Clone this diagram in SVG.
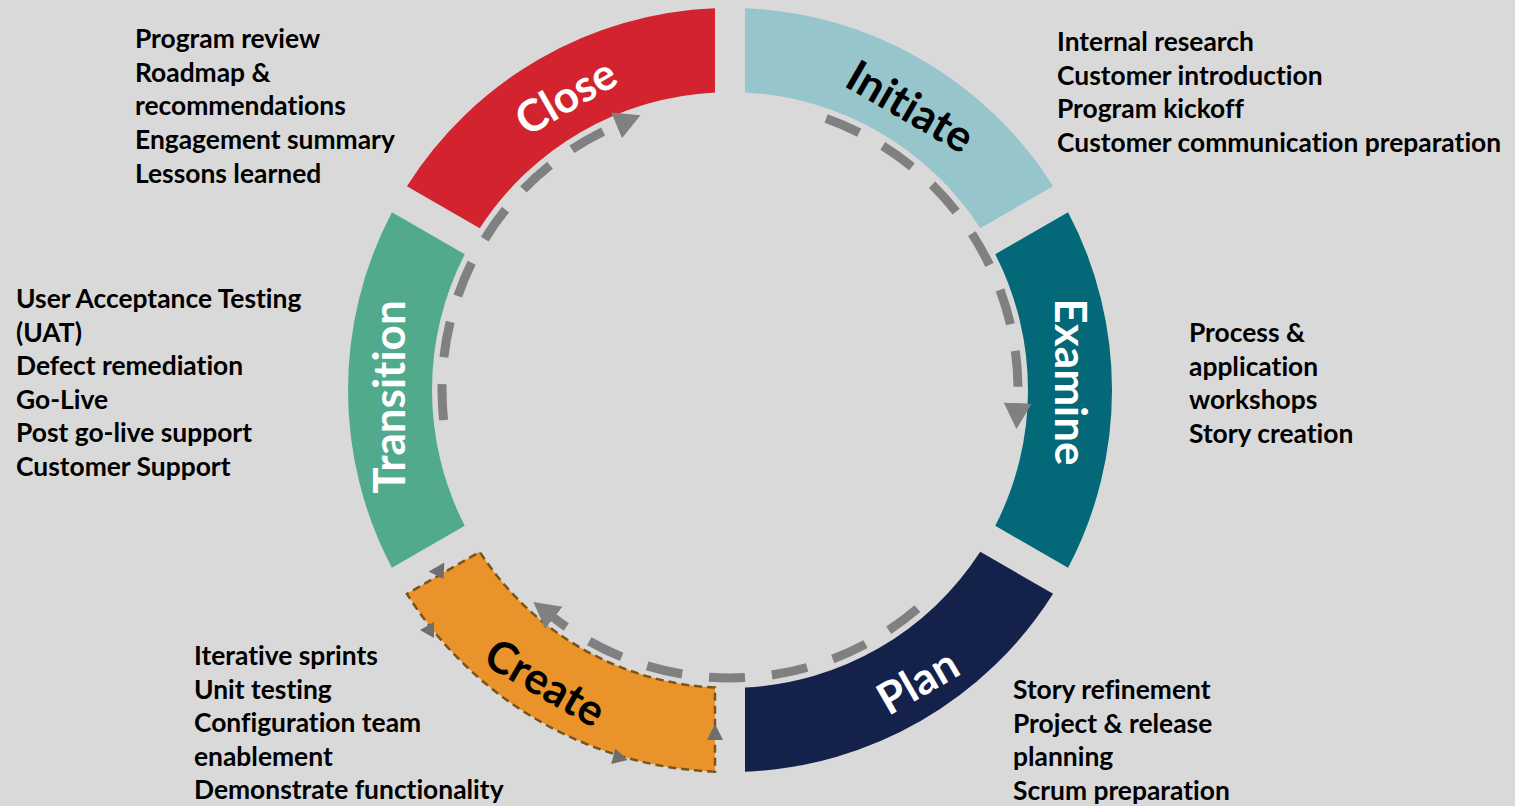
<svg xmlns="http://www.w3.org/2000/svg" width="1515" height="806" viewBox="0 0 1515 806">
<style>
text{font-variant-ligatures:none;font-feature-settings:"liga" 0,"clig" 0}
.list{font-family:Lato,"Open Sans",sans-serif;font-weight:700;font-size:26.4px;fill:#000}
.title{font-family:Lato,"Open Sans",sans-serif;font-weight:700;font-size:44px;text-anchor:middle}
.flow{fill:none;stroke:#808080;stroke-width:9;stroke-dasharray:36 27}
.tri{fill:#6E6E6E}
</style>
<defs>
<marker id="ah" markerUnits="userSpaceOnUse" markerWidth="30" markerHeight="30" refX="1" refY="14" orient="auto">
<path d="M0,0 L26,14 L0,28 Z" fill="#808080"/>
</marker>
</defs>
<rect width="1515" height="806" fill="#D9D9D9"/>

<g id="initiate">
<path d="M745,8.3 A382,382 0 0 1 1053.07,186.16 L980.25,228.2 A298,298 0 0 0 745,92.38 Z" fill="#96C6CC"/>
<text class="title" fill="#000" transform="translate(910,107) rotate(30)" y="15">Initiate</text>
</g>
<g id="examine">
<path d="M1068.07,212.14 A382,382 0 0 1 1068.07,567.86 L995.25,525.82 A298,298 0 0 0 995.25,254.18 Z" fill="#036877"/>
<text class="title" fill="#fff" transform="translate(1070,382) rotate(90)" y="15">Examine</text>
</g>
<g id="plan">
<path d="M1053.07,593.84 A382,382 0 0 1 745,771.7 L745,687.62 A298,298 0 0 0 980.25,551.8 Z" fill="#14214A"/>
<text class="title" fill="#fff" transform="translate(918,682) rotate(-30)" y="15">Plan</text>
</g>
<g id="create">
<path d="M715,771.7 A382,382 0 0 1 406.93,593.84 L479.75,551.8 A298,298 0 0 0 715,687.62 Z" fill="#E9932A" stroke="#7A5418" stroke-width="2.5" stroke-dasharray="8 5"/>
<polygon class="tri" points="431,566 449,566 440,580" transform="rotate(-30 440 573)"/>
<polygon class="tri" points="420,630 434,622 434,638"/>
<polygon class="tri" points="628,758 613,750 613,766" transform="rotate(15 620 758)"/>
<polygon class="tri" points="715,724 707,740 723,740"/>
<text class="title" fill="#000" transform="translate(545,683) rotate(30)" y="15">Create</text>
</g>
<g id="transition">
<path d="M391.93,567.86 A382,382 0 0 1 391.93,212.14 L464.75,254.18 A298,298 0 0 0 464.75,525.82 Z" fill="#52AA8C"/>
<text class="title" fill="#fff" transform="translate(390,397) rotate(-90)" y="15">Transition</text>
</g>
<g id="close">
<path d="M406.93,186.16 A382,382 0 0 1 715,8.3 L715,92.38 A298,298 0 0 0 479.75,228.2 Z" fill="#D2232E"/>
<text class="title" fill="#fff" transform="translate(566,97) rotate(-30)" y="15">Close</text>
</g>

<g id="connectors">
<path class="flow" d="M443.58,420.1 A288,288 0 0 1 617.47,124.9" marker-end="url(#ah)"/>
<path class="flow" d="M826.14,118.52 A288,288 0 0 1 1017.66,404.07" marker-end="url(#ah)"/>
<path class="flow" d="M917.42,608.67 A288,288 0 0 1 553.08,617.26" marker-end="url(#ah)"/>
</g>

<g id="close-list" class="list">
<text x="135" y="48">Program review</text>
<text x="135" y="82">Roadmap &amp;</text>
<text x="135" y="115">recommendations</text>
<text x="135" y="149">Engagement summary</text>
<text x="135" y="183">Lessons learned</text>
</g>
<g id="initiate-list" class="list">
<text x="1057" y="51">Internal research</text>
<text x="1057" y="85">Customer introduction</text>
<text x="1057" y="118">Program kickoff</text>
<text x="1057" y="152">Customer communication preparation</text>
</g>
<g id="transition-list" class="list">
<text x="16" y="308">User Acceptance Testing</text>
<text x="16" y="342">(UAT)</text>
<text x="16" y="375">Defect remediation</text>
<text x="16" y="409">Go-Live</text>
<text x="16" y="442">Post go-live support</text>
<text x="16" y="476">Customer Support</text>
</g>
<g id="examine-list" class="list">
<text x="1189" y="342">Process &amp;</text>
<text x="1189" y="376">application</text>
<text x="1189" y="409">workshops</text>
<text x="1189" y="443">Story creation</text>
</g>
<g id="create-list" class="list">
<text x="194" y="665">Iterative sprints</text>
<text x="194" y="699">Unit testing</text>
<text x="194" y="732">Configuration team</text>
<text x="194" y="766">enablement</text>
<text x="194" y="799">Demonstrate functionality</text>
</g>
<g id="plan-list" class="list">
<text x="1013" y="699">Story refinement</text>
<text x="1013" y="733">Project &amp; release</text>
<text x="1013" y="766">planning</text>
<text x="1013" y="800">Scrum preparation</text>
</g>
</svg>
